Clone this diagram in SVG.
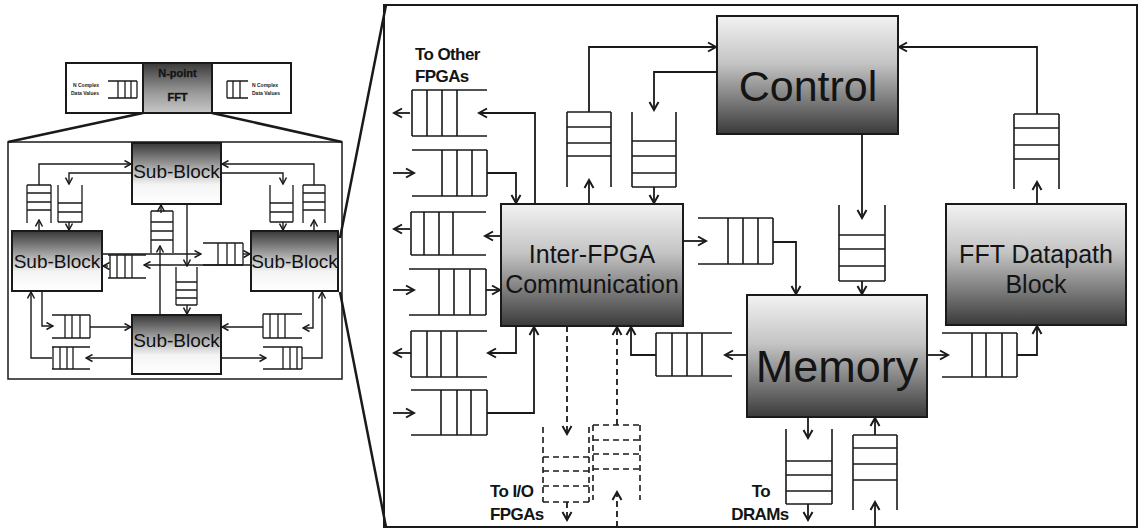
<svg xmlns="http://www.w3.org/2000/svg" width="1141" height="529" viewBox="0 0 1141 529">
<defs>
<linearGradient id="gR" x1="0" y1="0" x2="0" y2="1">
<stop offset="0" stop-color="#f2f2f2"/><stop offset="0.4" stop-color="#c4c4c4"/><stop offset="1" stop-color="#3a3a3a"/>
</linearGradient>
<linearGradient id="gL" x1="0" y1="0" x2="0" y2="1">
<stop offset="0" stop-color="#383838"/><stop offset="0.68" stop-color="#f4f4f4"/><stop offset="1" stop-color="#ffffff"/>
</linearGradient>
<linearGradient id="gF" x1="0" y1="0" x2="0" y2="1">
<stop offset="0" stop-color="#3a3a3a"/><stop offset="0.6" stop-color="#9a9a9a"/><stop offset="1" stop-color="#c8c8c8"/>
</linearGradient>
<marker id="a" markerUnits="userSpaceOnUse" markerWidth="12" markerHeight="12" refX="10" refY="6" orient="auto">
<path d="M2,1.5 L10,6 L2,10.5" fill="none" stroke="#1a1a1a" stroke-width="2"/>
</marker>
<marker id="s" markerUnits="userSpaceOnUse" markerWidth="9" markerHeight="9" refX="8" refY="4.5" orient="auto">
<path d="M1.5,1 L8,4.5 L1.5,8" fill="none" stroke="#1a1a1a" stroke-width="1.5"/>
</marker>
</defs>
<style>
.box{stroke:#1a1a1a;stroke-width:2}
.q{stroke:#1a1a1a;stroke-width:1.6;fill:none}
.ql{stroke:#1a1a1a;stroke-width:1.3;fill:none}
.qd{stroke:#1a1a1a;stroke-width:1.6;fill:none;stroke-dasharray:6 4}
.c{stroke:#1a1a1a;stroke-width:1.8;fill:none;marker-end:url(#a)}
.cd{stroke:#1a1a1a;stroke-width:1.8;fill:none;stroke-dasharray:6 4;marker-end:url(#a)}
.cl{stroke:#1a1a1a;stroke-width:1.4;fill:none;marker-end:url(#s)}
.zoom{stroke:#1a1a1a;stroke-width:2.5;fill:none}
.big{font-family:"Liberation Sans",Arial,sans-serif;fill:#141414;text-anchor:middle}
.lab{font-family:"Liberation Sans",Arial,sans-serif;font-weight:bold;fill:#141414;font-size:17px;letter-spacing:-0.6px}
.sb{font-family:"Liberation Sans",Arial,sans-serif;fill:#111;font-size:19px;text-anchor:middle}
.tiny{font-family:"Liberation Sans",Arial,sans-serif;font-weight:bold;fill:#222;font-size:5px}
</style>
<rect width="1141" height="529" fill="#ffffff"/>

<!-- Left overview -->
<g id="overview">
<rect x="66" y="63" width="225" height="50" fill="#fff" class="box" stroke-width="1.5"/>
<text class="tiny" x="73" y="87">N Complex</text>
<text class="tiny" x="71" y="95">Data Values</text>
<text class="tiny" x="252" y="87">N Complex</text>
<text class="tiny" x="252" y="95">Data Values</text>
<path class="ql" d="M108,81H137M108,98H137M118,81V98M125,81V98M131,81V98M137,81V98"/>
<path class="ql" d="M227,81H248M227,98H248M227,81V98M233,81V98M240,81V98"/>
</g>
<g id="fft-top">
<rect x="143" y="63" width="69" height="50" fill="url(#gF)" class="box" stroke-width="1.5"/>
<text class="big" x="177.5" y="77" font-size="11" font-weight="bold" fill="#eee" stroke="#333" stroke-width="0.5" paint-order="stroke">N-point</text>
<text class="big" x="177.5" y="101" font-size="11" font-weight="bold" fill="#eee" stroke="#333" stroke-width="0.5" paint-order="stroke">FFT</text>
</g>
<g id="zoomlines">
<path class="zoom" d="M143,113L8,142M212,113L342,142M340,238L386,5M340,292L386,527"/>
<rect x="8" y="142" width="334" height="237" fill="none" stroke="#1a1a1a" stroke-width="1.5"/>
</g>

<g id="subblock-top"><rect x="132" y="143" width="89" height="61" fill="url(#gL)" class="box" stroke-width="1.5"/><text class="sb" x="176.5" y="178">Sub-Block</text></g>
<g id="subblock-left"><rect x="12" y="231" width="90" height="60" fill="url(#gL)" class="box" stroke-width="1.5"/><text class="sb" x="57" y="268">Sub-Block</text></g>
<g id="subblock-right"><rect x="251" y="231" width="87" height="60" fill="url(#gL)" class="box" stroke-width="1.5"/><text class="sb" x="294.5" y="268">Sub-Block</text></g>
<g id="subblock-bottom"><rect x="132" y="315" width="89" height="59" fill="url(#gL)" class="box" stroke-width="1.5"/><text class="sb" x="176.5" y="347">Sub-Block</text></g>

<g id="left-queues">
<path class="ql" d="M27,185V223M51,185V223M27,185H51M27,193H51M27,202H51M27,210H51"/>
<path class="ql" d="M58,185V222M82,185V222M58,203H82M58,212H82M58,222H82"/>
<path class="ql" d="M270,185V222M293,185V222M270,203H293M270,212H293M270,222H293"/>
<path class="ql" d="M303,185V223M325,185V223M303,185H325M303,193H325M303,202H325M303,210H325"/>
<path class="ql" d="M151,211V253M173,211V253M151,211H173M151,222H173M151,231H173M151,240H173"/>
<path class="ql" d="M176,267V305M197,267V305M176,282H197M176,290H197M176,298H197M176,305H197"/>
<path class="ql" d="M203,243H243M203,265H243M218,243V265M227,243V265M235,243V265M243,243V265"/>
<path class="ql" d="M108,255H146M108,278H146M110,255V278M117,255V278M125,255V278M132,255V278"/>
<path class="ql" d="M52,315H90M52,338H90M65,315V338M72,315V338M80,315V338M90,315V338"/>
<path class="ql" d="M52,347H90M52,369H90M53,347V369M60,347V369M67,347V369M73,347V369"/>
<path class="ql" d="M263,314H302M263,338H302M263,314V338M270,314V338M278,314V338M285,314V338"/>
<path class="ql" d="M263,347H302M263,369H302M283,347V369M290,347V369M297,347V369M302,347V369"/>
</g>

<!-- Right detail -->
<rect x="384" y="5" width="753" height="522" fill="none" stroke="#1a1a1a" stroke-width="2"/>
<g id="control"><rect x="717" y="16" width="181" height="118" fill="url(#gR)" class="box"/><text class="big" x="808" y="101" font-size="43">Control</text></g>
<g id="inter-fpga"><rect x="501" y="204" width="182" height="122" fill="url(#gR)" class="box"/><text class="big" x="592" y="263" font-size="25">Inter-FPGA</text><text class="big" x="592" y="293" font-size="25">Communication</text></g>
<g id="fft-datapath"><rect x="946" y="204" width="180" height="121" fill="url(#gR)" class="box"/><text class="big" x="1036" y="263" font-size="25">FFT Datapath</text><text class="big" x="1036" y="293" font-size="25">Block</text></g>
<g id="memory"><rect x="747" y="295" width="180" height="122" fill="url(#gR)" class="box"/><text class="big" x="837" y="382" font-size="45">Memory</text></g>

<g id="right-queues">
<path class="q" d="M412,90H487M412,136H487M412,90V136M427,90V136M442,90V136M457,90V136"/>
<path class="q" d="M412,150H487M412,196H487M442,150V196M457,150V196M472,150V196M487,150V196"/>
<path class="q" d="M411,212H486M411,255H486M411,212V255M424,212V255M439,212V255M453,212V255"/>
<path class="q" d="M409,269H486M409,315H486M439,269V315M454,269V315M470,269V315M486,269V315"/>
<path class="q" d="M411,331H487M411,377H487M411,331V377M427,331V377M441,331V377M457,331V377"/>
<path class="q" d="M411,390H487M411,435H487M441,390V435M457,390V435M471,390V435M487,390V435"/>
<path class="q" d="M567,112V187M611,112V187M567,112H611M567,127H611M567,143H611M567,156H611"/>
<path class="q" d="M632,112V187M676,112V187M632,141H676M632,156H676M632,173H676M632,187H676"/>
<path class="q" d="M698,218H773M698,264H773M728,218V264M743,218V264M758,218V264M773,218V264"/>
<path class="q" d="M839,205V281M885,205V281M839,235H885M839,249H885M839,266H885M839,281H885"/>
<path class="q" d="M1014,114V189M1059,114V189M1014,114H1059M1014,128H1059M1014,145H1059M1014,159H1059"/>
<path class="q" d="M942,333H1017M942,377H1017M972,333V377M986,333V377M1002,333V377M1017,333V377"/>
<path class="q" d="M656,333H732M656,376H732M656,333V376M672,333V376M687,333V376M702,333V376"/>
<path class="q" d="M786,429V504M832,429V504M786,461H832M786,475H832M786,491H832M786,504H832"/>
<path class="q" d="M853,435V510M897,435V510M853,435H897M853,448H897M853,464H897M853,480H897"/>
<path class="qd" d="M543,427V502M589,427V502M543,457H589M543,471H589M543,486H589M543,502H589"/>
<path class="qd" d="M593,425V500M640,425V500M593,425H640M593,440H640M593,454H640M593,469H640"/>
</g>

<g id="labels">
<text class="lab" x="415" y="60">To Other</text>
<text class="lab" x="415" y="82">FPGAs</text>
<text class="lab" x="490" y="497">To I/O</text>
<text class="lab" x="490" y="520">FPGAs</text>
<text class="lab" x="761" y="497" text-anchor="middle">To</text>
<text class="lab" x="760" y="520" text-anchor="middle">DRAMs</text>
</g>

<g id="connectors">
<!-- left panel -->
<path class="cl" d="M39,185V164H131"/>
<path class="cl" d="M132,173H69V184"/>
<path class="cl" d="M69,222V230"/>
<path class="cl" d="M39,231V220"/>
<path class="cl" d="M314,185V164H222"/>
<path class="cl" d="M221,173H283V184"/>
<path class="cl" d="M283,222V230"/>
<path class="cl" d="M314,231V220"/>
<path class="cl" d="M161,213V205"/>
<path class="cl" d="M160,315V246"/>
<path class="cl" d="M187,204V266"/>
<path class="cl" d="M187,305V314"/>
<path class="cl" d="M102,254H201"/>
<path class="cl" d="M243,254H250"/>
<path class="cl" d="M251,265H144"/>
<path class="cl" d="M108,266H103"/>
<path class="cl" d="M42,291V326H53"/>
<path class="cl" d="M90,327H131"/>
<path class="cl" d="M132,358H86"/>
<path class="cl" d="M52,358H31V292"/>
<path class="cl" d="M313,291V328H303"/>
<path class="cl" d="M263,327H222"/>
<path class="cl" d="M221,358H266"/>
<path class="cl" d="M302,358H322V292"/>
<!-- right panel -->
<path class="c" d="M535,204V113H479"/>
<path class="c" d="M410,113H394"/>
<path class="c" d="M393,173H414"/>
<path class="c" d="M487,173H516V203"/>
<path class="c" d="M410,229H394"/>
<path class="c" d="M501,236H485"/>
<path class="c" d="M393,290H414"/>
<path class="c" d="M486,290H500"/>
<path class="c" d="M411,353H394"/>
<path class="c" d="M516,326V353H488"/>
<path class="c" d="M393,413H414"/>
<path class="c" d="M487,413H534V327"/>
<path class="c" d="M589,204V180"/>
<path class="c" d="M589,112V47H716"/>
<path class="c" d="M717,72H654V110"/>
<path class="c" d="M654,187V203"/>
<path class="c" d="M683,241H706"/>
<path class="c" d="M773,242H796V294"/>
<path class="c" d="M862,134V218"/>
<path class="c" d="M862,281V294"/>
<path class="c" d="M1037,204V182"/>
<path class="c" d="M1037,114V47H899"/>
<path class="c" d="M927,355H948"/>
<path class="c" d="M1017,355H1037V326"/>
<path class="c" d="M747,355H725"/>
<path class="c" d="M656,355H631V327"/>
<path class="cd" d="M567,326V434"/>
<path class="cd" d="M567,502V520"/>
<path class="cd" d="M617,425V327"/>
<path class="cd" d="M617,527V492"/>
<path class="c" d="M808,417V438"/>
<path class="c" d="M808,504V520"/>
<path class="c" d="M875,435V418"/>
<path class="c" d="M875,527V502"/>
</g>
</svg>
